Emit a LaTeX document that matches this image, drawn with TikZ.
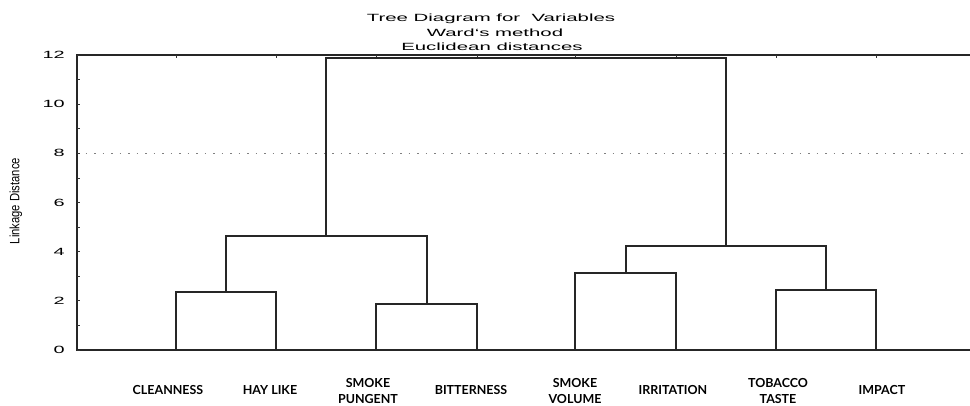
\documentclass[tikz,border=0pt]{standalone}
\usepackage{fontspec}
\setmainfont{Liberation Sans}
\newfontfamily\labfont{Lato}
\begin{document}
\begin{tikzpicture}[x=1bp,y=-1bp,
  frame/.style={line width=1.1bp, black!85},
  link/.style={line width=1.1bp, black!85},
  tickmark/.style={line width=0.8bp, black!80},
  ticklab/.style={anchor=east, inner sep=0pt, font=\fontsize{10.5}{12}\selectfont},
  leaflab/.style={font=\labfont\bfseries\fontsize{12.5}{16}\selectfont, align=center, inner sep=0pt},
  titlelab/.style={anchor=base, inner sep=0pt, font=\fontsize{10.5}{12}\selectfont},
  gridline/.style={gray, line width=0.8bp, dash pattern=on 1.5bp off 7bp}]
\useasboundingbox (0,0) rectangle (970,405);

% frame
\coordinate (tl) at (77,55);
\coordinate (tr) at (970,55);
\coordinate (bl) at (77,350);
\coordinate (br) at (970,350);
\coordinate (g8l) at (77,153);
\coordinate (g8r) at (970,153);
\draw[gridline] (g8l) -- (g8r);
\draw[frame] (tr) -- (tl) -- (bl) -- (br);

% y ticks and labels
\foreach \v in {0,...,12} \draw[tickmark] (77,{350-24.58*\v}) -- ++(3,0);
\foreach \v in {0,2,...,12} \node[ticklab] (y\v) at (65,{350-24.58*\v}) {\scalebox{1.9}[1]{\v}};
% top ticks
\foreach \x in {176,276,376,477,575,676,776,876} \draw[tickmark] (\x,55) -- ++(0,3);

% y label
\node[rotate=90, inner sep=0pt, font=\fontsize{11.3}{13}\selectfont] (ylab) at (16,201) {\scalebox{1}[1.2]{Linkage Distance}};

% title
\node[titlelab] (t1) at (491,21.5) {\scalebox{1.95}[1]{Tree Diagram for\ \ Variables}};
\node[titlelab] (t2) at (495,36) {\scalebox{1.95}[1]{Ward{\char"60}s method}};
\node[titlelab] (t3) at (492,50.5) {\scalebox{1.95}[1]{Euclidean distances}};

% leaves
\coordinate (L1) at (176,350);
\coordinate (L2) at (276,350);
\coordinate (L3) at (376,350);
\coordinate (L4) at (477,350);
\coordinate (L5) at (575,350);
\coordinate (L6) at (676,350);
\coordinate (L7) at (776,350);
\coordinate (L8) at (876,350);
% merges
\coordinate (mA) at (226,292);
\coordinate (mB) at (427,304);
\coordinate (mAB) at (326,236);
\coordinate (mC) at (626,273);
\coordinate (mD) at (826,290);
\coordinate (mCD) at (726,246);
\coordinate (mTop) at (526,58);

\draw[link] (L1) |- (mA) -| (L2);
\draw[link] (L3) |- (mB) -| (L4);
\draw[link] (mA) |- (mAB) -| (mB);
\draw[link] (L5) |- (mC) -| (L6);
\draw[link] (L7) |- (mD) -| (L8);
\draw[link] (mC) |- (mCD) -| (mD);
\draw[link] (mAB) |- (mTop) -| (mCD);

% leaf labels
\node[leaflab] (n1) at (168,390) {CLEANNESS};
\node[leaflab] (n2) at (270,390) {HAY LIKE};
\node[leaflab] (n3) at (368,391) {SMOKE\\PUNGENT};
\node[leaflab] (n4) at (471,390) {BITTERNESS};
\node[leaflab] (n5) at (575,391) {SMOKE\\VOLUME};
\node[leaflab] (n6) at (673,390) {IRRITATION};
\node[leaflab] (n7) at (778,391) {TOBACCO\\TASTE};
\node[leaflab] (n8) at (882,390) {IMPACT};
\end{tikzpicture}
\end{document}
